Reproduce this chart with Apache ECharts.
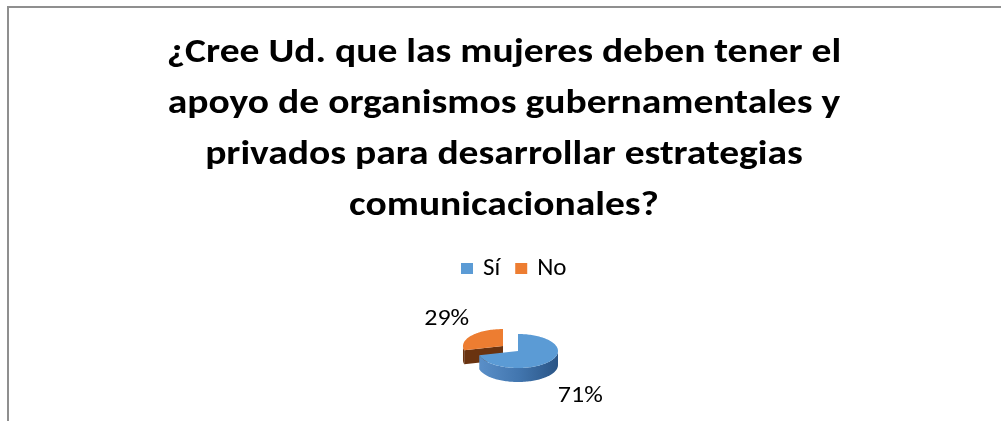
<!DOCTYPE html>
<html>
<head>
<meta charset="utf-8">
<script src="https://cdn.jsdelivr.net/npm/echarts@6/dist/echarts.min.js"></script>
<style>
  html, body { margin: 0; padding: 0; background: #fff; overflow: hidden; }
  #chart { position: absolute; left: 0; top: 0; width: 1001px; height: 421px; }
  #frame { position: absolute; left: 7px; top: 6px; width: 1200px; height: 600px;
           border-left: 2px solid #8f8f8f; border-top: 2px solid #8f8f8f; pointer-events: none; }
</style>
</head>
<body>
<div id="chart"></div>
<div id="frame"></div>
<script>
const categories = ['Sí', 'No']
const values = [71, 29]
const labels = ['71%', '29%']
const topColors = ['#5b9bd5', '#ed7d31']
const sideColors = [['#5a8fc8', '#4276af', '#2a5586'], ['#7c3d14', '#6a3310', '#552809']]
const explode = [0, 19]

const titleText = '¿Cree Ud. que las mujeres deben tener el\napoyo de organismos gubernamentales y\nprivados para desarrollar estrategias\ncomunicacionales?'

// ellipse geometry of the tilted pie
const CX = 518, CY = 351, RX = 40, RY = 17, DEPTH = 14
const total = values.reduce((a, b) => a + b, 0)
const FONT = 'Carlito, Lato, "Noto Sans", sans-serif'

function rim(cx, cy, deg, dy) {
  const r = deg * Math.PI / 180
  return [cx + RX * Math.sin(r), cy - RY * Math.cos(r) + (dy || 0)]
}

function arc(cx, cy, a0, a1, dy) {
  const pts = []
  const n = Math.max(2, Math.ceil((a1 - a0) / 2))
  for (let k = 0; k <= n; k++) pts.push(rim(cx, cy, a0 + (a1 - a0) * k / n, dy))
  return pts
}

function sliceItem(i) {
  return function (params, api) {
    const v = api.value(0)
    let before = 0
    for (let k = 0; k < i; k++) before += values[k]
    const a0 = before / total * 360
    const a1 = a0 + v / total * 360
    const mid = (a0 + a1) / 2 * Math.PI / 180
    const cx = CX + explode[i] * Math.sin(mid)
    const cy = CY - explode[i] * (RY / RX) * Math.cos(mid)
    const side = new echarts.graphic.LinearGradient(0, 0, 1, 0, [
      { offset: 0, color: sideColors[i][0] },
      { offset: 0.5, color: sideColors[i][1] },
      { offset: 1, color: sideColors[i][2] }
    ])
    const children = []
    // cut faces facing the viewer
    const faceAt = (a) => {
      const p = rim(cx, cy, a)
      children.push({
        type: 'polygon',
        shape: { points: [[cx, cy], p, [p[0], p[1] + DEPTH], [cx, cy + DEPTH]] },
        style: { fill: sideColors[i][1] }
      })
    }
    if (Math.sin(a0 * Math.PI / 180) < -1e-6) faceAt(a0)
    if (Math.sin(a1 * Math.PI / 180) > 1e-6) faceAt(a1)
    // outer wall on the front half
    const s0 = Math.max(a0, 90), s1 = Math.min(a1, 270)
    if (s1 > s0) {
      const up = arc(cx, cy, s0, s1)
      const down = arc(cx, cy, s0, s1, DEPTH).reverse()
      children.push({ type: 'polygon', shape: { points: up.concat(down) }, style: { fill: side } })
    }
    // top face
    children.push({
      type: 'polygon',
      shape: { points: [[cx, cy]].concat(arc(cx, cy, a0, a1)) },
      style: { fill: topColors[i] }
    })
    // data label
    const lx = cx + 75 * Math.sin(mid) + 3
    const ly = cy - 47 * Math.cos(mid) + (Math.cos(mid) < 0 ? DEPTH : 0) + 2
    children.push({
      type: 'text',
      scaleX: 1.13,
      x: lx,
      y: ly,
      style: { text: labels[i], x: 0, y: 0, align: 'center', verticalAlign: 'middle',
               font: '23px ' + FONT, fill: '#000' }
    })
    return { type: 'group', children }
  }
}

const chart = echarts.init(document.getElementById('chart'), null, { renderer: 'canvas' })
chart.setOption({
  animation: false,
  color: topColors,
  graphic: [{
    type: 'text',
    x: 504,
    y: 28,
    scaleX: 1.13,
    style: {
      text: titleText,
      font: 'bold 35px ' + FONT,
      lineHeight: 51,
      align: 'center',
      verticalAlign: 'top',
      fill: '#000'
    }
  }],
  legend: {
    data: categories,
    left: 461,
    top: 256,
    padding: 0,
    icon: 'rect',
    itemWidth: 12,
    itemHeight: 11,
    itemGap: 15,
    textStyle: { fontFamily: FONT, fontSize: 25, color: '#000', padding: [0, 0, 0, 5] }
  },
  series: categories.map((name, i) => ({
    name: name,
    type: 'custom',
    coordinateSystem: 'none',
    z: 10 - i,
    itemStyle: { color: topColors[i] },
    renderItem: sliceItem(i),
    data: [[values[i]]]
  }))
})
</script>
</body>
</html>
